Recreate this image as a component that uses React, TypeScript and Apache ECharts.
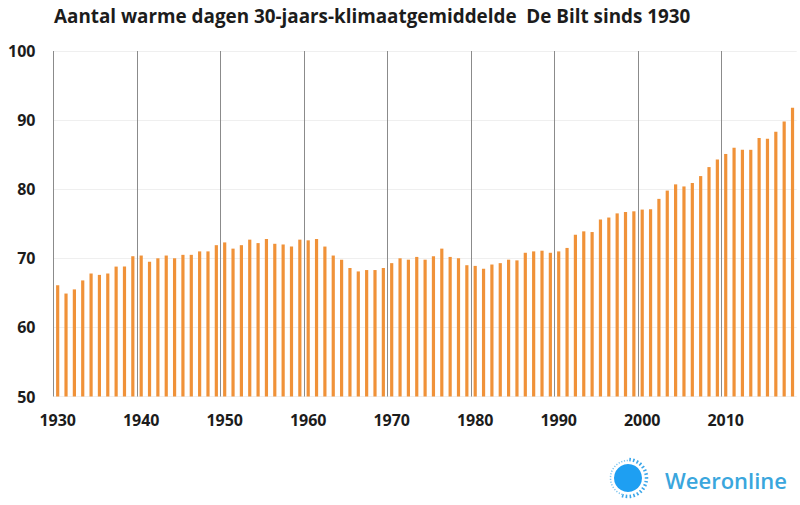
import React, { useEffect, useRef } from "react";
import * as echarts from "echarts";

const years: string[] = [];
for (let y = 1930; y <= 2018; y++) years.push(String(y));

const values1930s = [66.1, 64.9, 65.5, 66.8, 67.8, 67.6, 67.8, 68.8, 68.8, 70.3];
const values1940s = [70.4, 69.5, 70.0, 70.4, 70.0, 70.5, 70.5, 71.0, 71.0, 71.9];
const values1950s = [72.3, 71.4, 71.9, 72.7, 72.2, 72.8, 72.1, 72.0, 71.7, 72.7];
const values1960s = [72.6, 72.8, 71.7, 70.4, 69.8, 68.6, 68.1, 68.3, 68.3, 68.6];
const values1970s = [69.3, 70.0, 69.8, 70.2, 69.8, 70.3, 71.4, 70.2, 70.0, 69.0];
const values1980s = [68.9, 68.5, 69.1, 69.3, 69.8, 69.7, 70.8, 71.0, 71.1, 70.8];
const values1990s = [71.0, 71.5, 73.4, 73.9, 73.8, 75.6, 75.9, 76.5, 76.7, 76.8];
const values2000s = [77.05, 77.1, 78.6, 79.8, 80.7, 80.4, 80.9, 81.9, 83.2, 84.3];
const values2010s = [85.1, 86.0, 85.7, 85.7, 87.4, 87.3, 88.3, 89.8, 91.8];
const values = [
  ...values1930s, ...values1940s, ...values1950s, ...values1960s, ...values1970s,
  ...values1980s, ...values1990s, ...values2000s, ...values2010s,
];

const titleText = "Aantal warme dagen 30-jaars-klimaatgemiddelde  De Bilt sinds 1930";
const brandText = "Weeronline";
const font = "'Open Sans', sans-serif";
const decade = (i: number) => i % 10 === 0;

export default function App() {
  const ref = useRef<HTMLDivElement>(null);
  useEffect(() => {
    const chart = echarts.init(ref.current!, null, { renderer: "svg" });
    chart.setOption({
      animation: false,
      backgroundColor: "#ffffff",
      title: {
        text: titleText,
        left: 54,
        top: 6,
        padding: 0,
        textStyle: { fontFamily: font, fontSize: 18.85, fontWeight: 700, color: "#1c1c1c" },
      },
      grid: { left: 53.5, top: 51, width: 743.2, height: 345.5, containLabel: false },
      xAxis: {
        type: "category",
        data: years,
        boundaryGap: true,
        axisLine: { show: false },
        axisTick: { show: false },
        axisLabel: {
          interval: (i: number) => decade(i),
          margin: 15,
          fontFamily: font,
          fontSize: 16,
          fontWeight: 700,
          color: "#1c1c1c",
          showMinLabel: true,
          hideOverlap: false,
        },
        splitLine: {
          show: true,
          interval: (i: number) => decade(i),
          showMinLine: true,
          showMaxLine: false,
          lineStyle: { color: "#8b8b8b", width: 1 },
        },
      },
      yAxis: {
        type: "value",
        min: 50,
        max: 100,
        interval: 10,
        axisLine: { show: false },
        axisTick: { show: false },
        axisLabel: {
          margin: 18,
          fontFamily: font,
          fontSize: 16,
          fontWeight: 700,
          color: "#1c1c1c",
        },
        splitLine: { show: true, lineStyle: { color: "#efefef", width: 1 } },
      },
      series: [
        {
          type: "bar",
          data: values,
          barWidth: 3.2,
          itemStyle: { color: "#f09239" },
          z: 3,
        },
      ],
      graphic: [
        {
          type: "circle",
          shape: { cx: 628, cy: 478, r: 14 },
          style: { fill: "#1e9ff2" },
        },
        {
          type: "arc",
          shape: { cx: 628, cy: 478, r: 18.5, startAngle: -1.5, endAngle: 1.9 },
          style: { stroke: "#3ba7ea", lineWidth: 3.5, lineDash: [1.6, 2.2], fill: "none" },
        },
        {
          type: "arc",
          shape: { cx: 628, cy: 478, r: 17.5, startAngle: 1.9, endAngle: 4.8 },
          style: { stroke: "#7cc4ef", lineWidth: 1.5, lineDash: [1.2, 1.6], fill: "none" },
        },
        {
          type: "text",
          x: 665,
          y: 480,
          style: {
            text: brandText,
            fontFamily: font,
            fontSize: 22,
            fontWeight: 600,
            fill: "#3aa6dd",
            verticalAlign: "middle",
          },
        },
      ],
    });
    return () => chart.dispose();
  }, []);
  return <div ref={ref} style={{ position: "absolute", left: 0, top: 0, width: 800, height: 505 }} />;
}
